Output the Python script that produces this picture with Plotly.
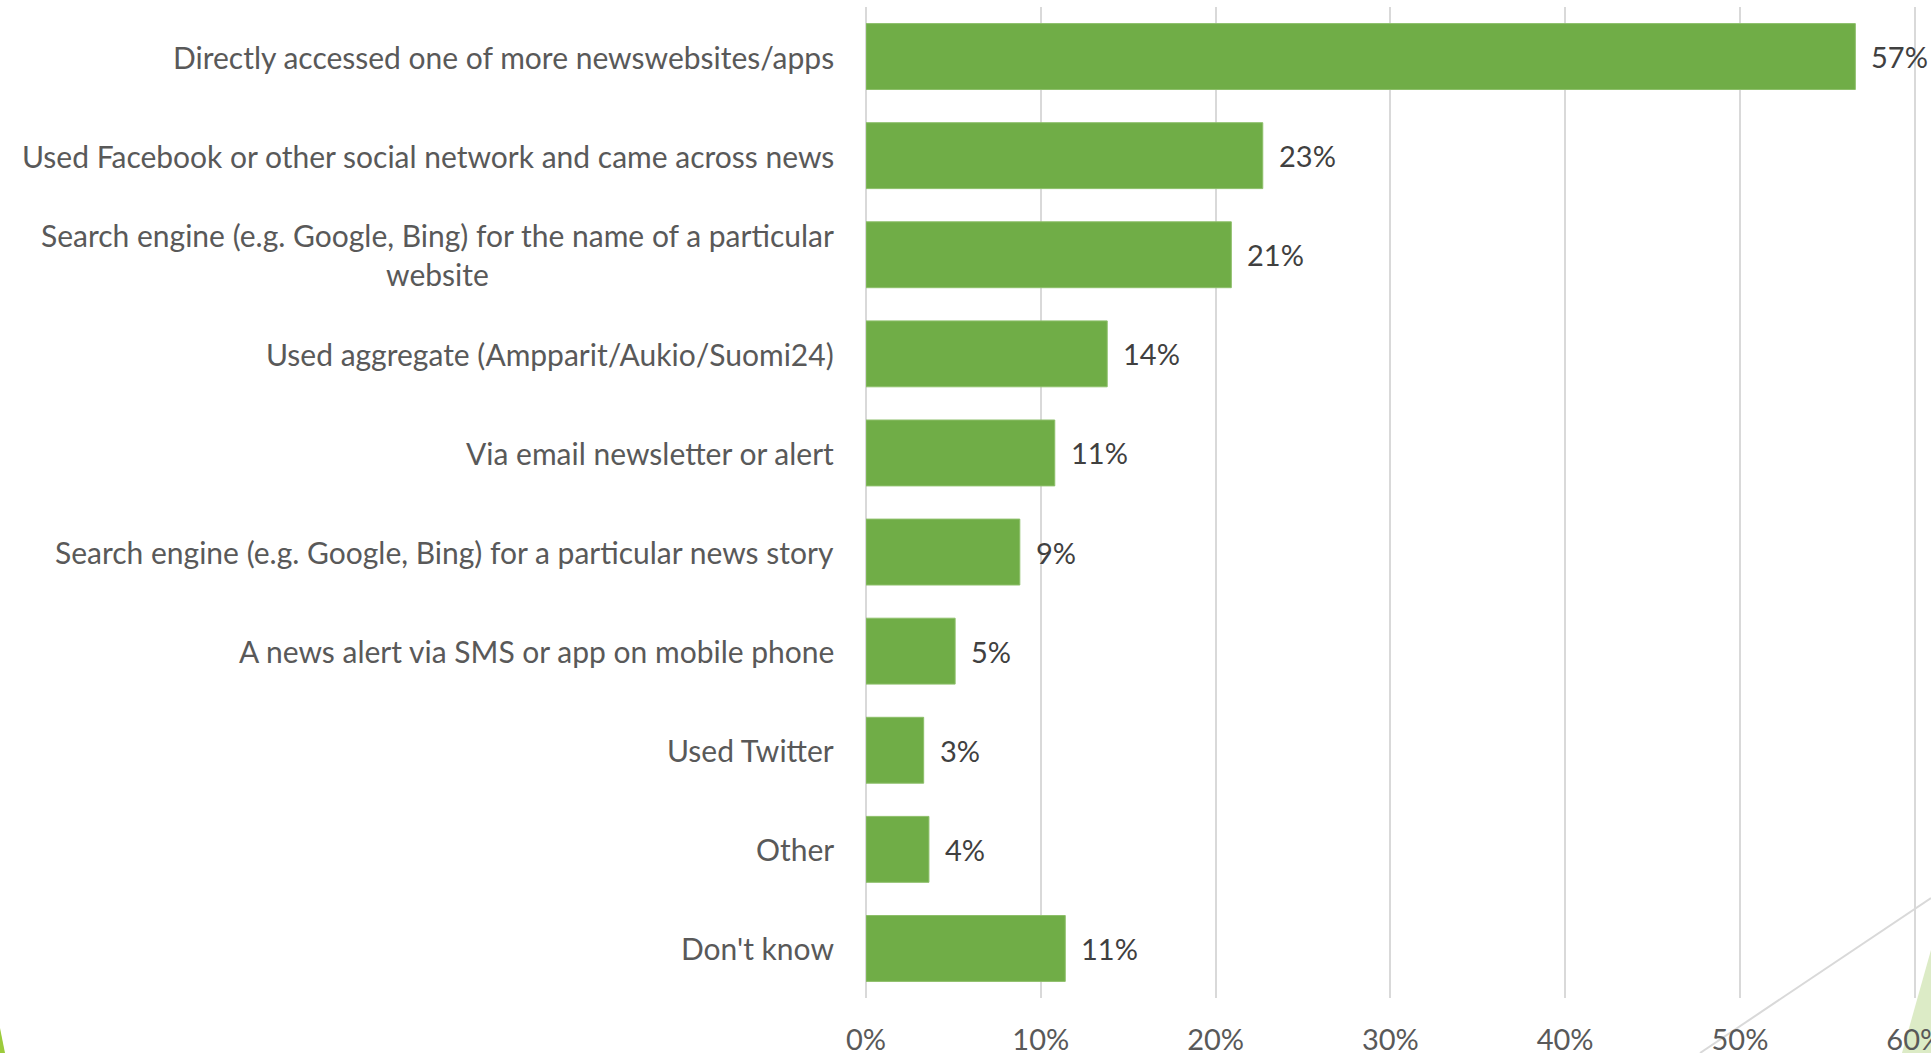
import plotly.graph_objects as go

# Survey: ways people came across online news
categories = [
    "Directly accessed one of more newswebsites/apps",
    "Used Facebook or other social network and came across news",
    "Search engine (e.g. Google, Bing) for the name of a particular<br>website",
    "Used aggregate (Ampparit/Aukio/Suomi24)",
    "Via email newsletter or alert",
    "Search engine (e.g. Google, Bing) for a particular news story",
    "A news alert via SMS or app on mobile phone",
    "Used Twitter",
    "Other",
    "Don't know",
]
shares = [56.6, 22.7, 20.9, 13.8, 10.8, 8.8, 5.1, 3.3, 3.6, 11.4]
x_ticks = [0, 10, 20, 30, 40, 50, 60]
x_tick_labels = ["0%", "10%", "20%", "30%", "40%", "50%", "60%"]

W, H = 1931, 1053
L, R, T, B = 866, 11, 7, 55
X_MAX = 60.3
FONT = "Lato"
GREEN = "#70AD47"


def px_to_paper(px, py):
    pw = W - L - R
    ph = H - T - B
    return (px - L) / pw, (H - B - py) / ph


fig = go.Figure()
fig.add_trace(go.Bar(
    x=shares,
    y=categories,
    orientation="h",
    marker=dict(color=GREEN, line=dict(color="#8DBF6A", width=1)),
    width=0.665,
    hoverinfo="skip",
))

annotations = []
# value labels just past each bar end
for cat, v in zip(categories, shares):
    annotations.append(dict(
        x=v, y=cat, xref="x", yref="y",
        text=f"{round(v)}%", showarrow=False,
        xanchor="left", yanchor="middle", xshift=14,
        font=dict(family=FONT, size=29, color="#404040"),
    ))
# category labels to the left of the axis
for cat in categories:
    annotations.append(dict(
        x=0, y=cat, xref="paper", yref="y",
        text=cat, showarrow=False, align="center",
        xanchor="right", yanchor="middle", xshift=-30,
        font=dict(family=FONT, size=30, color="#595959"),
    ))

# slide background ornaments
shapes = []
x1, y1 = px_to_paper(1700, 1053)
x2, y2 = px_to_paper(1931, 898)
shapes.append(dict(type="line", xref="paper", yref="paper",
                   x0=x1, y0=y1, x1=x2, y1=y2,
                   line=dict(color="#D9D9D9", width=2), layer="below"))
a = px_to_paper(1902, 1053)
b = px_to_paper(1931, 950)
c = px_to_paper(1931, 1053)
shapes.append(dict(type="path", xref="paper", yref="paper",
                   path=f"M {a[0]},{a[1]} L {b[0]},{b[1]} L {c[0]},{c[1]} Z",
                   fillcolor="#DCEBC6", line=dict(width=0), layer="below"))
a = px_to_paper(0, 1028)
b = px_to_paper(5, 1053)
c = px_to_paper(0, 1053)
shapes.append(dict(type="path", xref="paper", yref="paper",
                   path=f"M {a[0]},{a[1]} L {b[0]},{b[1]} L {c[0]},{c[1]} Z",
                   fillcolor="#9CCB3C", line=dict(width=0), layer="below"))

fig.update_layout(
    width=W, height=H,
    margin=dict(l=L, r=R, t=T, b=B, pad=0, autoexpand=False),
    paper_bgcolor="white", plot_bgcolor="white",
    showlegend=False,
    bargap=0.335,
    annotations=annotations,
    shapes=shapes,
    xaxis=dict(
        range=[0, X_MAX], tickvals=x_ticks, ticktext=x_tick_labels,
        showgrid=True, gridcolor="#D9D9D9", gridwidth=2,
        zeroline=True, zerolinecolor="#D9D9D9", zerolinewidth=2,
        showline=False, ticks="", ticklabelstandoff=22,
        ticklabeloverflow="allow",
        automargin=False,
        tickfont=dict(family=FONT, size=29, color="#595959"),
        fixedrange=True,
    ),
    yaxis=dict(
        type="category", categoryorder="array", categoryarray=categories,
        autorange="reversed", showticklabels=False, automargin=False,
        showgrid=False, zeroline=False, showline=False, ticks="",
        fixedrange=True,
    ),
)

fig.write_html("out.html", config={"displayModeBar": False})
